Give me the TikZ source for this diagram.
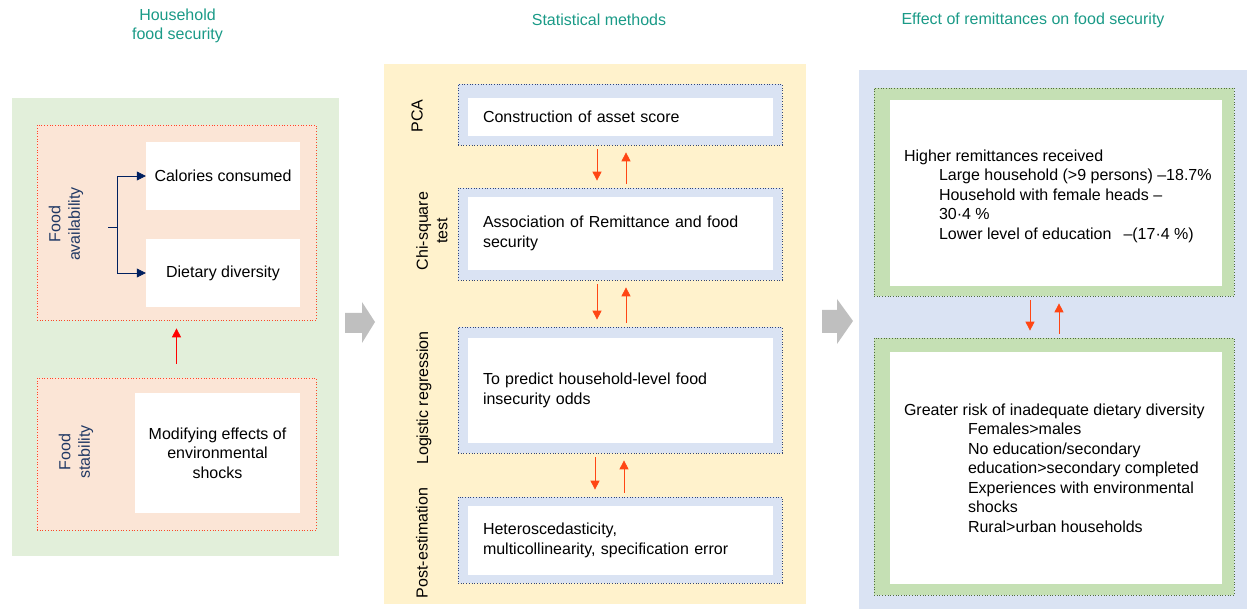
\documentclass[tikz,border=0pt]{standalone}
\usepackage{fontspec}
\setmainfont{Liberation Sans}
\usetikzlibrary{arrows.meta,positioning}
\definecolor{headteal}{RGB}{26,154,135}
\definecolor{greenbg}{RGB}{226,239,218}
\definecolor{peach}{RGB}{251,229,214}
\definecolor{dotred}{RGB}{255,70,40}
\definecolor{yellowbg}{RGB}{255,242,204}
\definecolor{paleblue}{RGB}{218,227,243}
\definecolor{dotblue}{RGB}{50,70,120}
\definecolor{leafgreen}{RGB}{197,224,180}
\definecolor{dotgreen}{RGB}{80,110,60}
\definecolor{flowred}{RGB}{255,70,20}
\definecolor{navy}{RGB}{0,32,96}
\definecolor{labelblue}{RGB}{32,56,100}
\definecolor{blockgray}{RGB}{191,191,191}
\tikzset{
  heading/.style={text=headteal, align=center},
  zone/.style={inner sep=0pt, minimum width=#1},
  frame/.style={draw=#1, dotted, line width=0.7pt, inner sep=0pt},
  card/.style={fill=white, inner sep=0pt, align=center},
  methodcard/.style={fill=white, inner xsep=15pt, inner ysep=0pt, text width=275pt, align=left},
  sidelabel/.style={rotate=90, align=center},
  fork/.style={line width=0.6pt, draw=navy},
  forkarrow/.style={fork, -{Triangle[length=9pt,width=9pt]}},
  flow/.style={line width=0.8pt, draw=flowred, -{Triangle[length=9pt,width=9pt]}, shorten <=4pt, shorten >=7pt},
  blockarrow/.style={fill=blockgray}
}
\begin{document}
\begin{tikzpicture}[x=1pt, y=-1pt, font=\fontsize{16}{19.5}\selectfont]
    \useasboundingbox (0,0) rectangle (1247,609);
    \node[heading] (titleleft) at (177.5,26) {Household\\food security};
    \node[heading] (titlemid) at (599,20) {Statistical methods};
    \node[heading] (titleright) at (1033,20) {Effect of remittances on food security};

    \node[zone=327pt, minimum height=458pt, fill=greenbg] (leftzone) at (175.5,327) {};
    \node[frame=dotred, fill=peach, minimum width=279pt, minimum height=195pt] (availframe) at (176.5,222.5) {};
    \node[card, minimum width=154pt, minimum height=68pt] (calories) at (223,176) {Calories consumed};
    \node[card, minimum width=154pt, minimum height=68pt] (diversity) at (223,273) {Dietary diversity};
    \node[sidelabel, text=labelblue] (availlabel) at (66,224) {Food\\availability};
    \coordinate (branch) at (117,227);
    \draw[fork] (branch) -- ++(-9,0);
    \draw[forkarrow] (branch) |- (calories.west);
    \draw[forkarrow] (branch) |- (diversity.west);
    \node[frame=dotred, fill=peach, minimum width=279pt, minimum height=152pt] (stabframe) at (176.5,454) {};
    \node[card, minimum width=165pt, minimum height=120pt] (shocks) at (217.5,453) {Modifying effects of\\environmental\\shocks};
    \node[sidelabel, text=labelblue] (stablabel) at (76,452) {Food\\stability};
    \draw[line width=0.8pt, red, -{Triangle[length=9pt,width=9pt]}, shorten <=14pt, shorten >=8pt] (stabframe.north) -- (availframe.south);

    \fill[blockarrow] (345,313) -- (362,313) -- (362,302) -- (375,322) -- (362,343) -- (362,333) -- (345,333) -- cycle;

    \node[zone=422pt, minimum height=540pt, fill=yellowbg] (midzone) at (595,334) {};
    \node[frame=dotblue, fill=paleblue, minimum width=324pt, minimum height=61pt] (pcaframe) at (620,114.5) {};
    \node[methodcard, minimum height=38pt] (pca) at (620.5,117) {Construction of asset score};
    \node[sidelabel] (pcalabel) at (417,116) {PCA};
    \node[frame=dotblue, fill=paleblue, minimum width=324pt, minimum height=92pt] (chiframe) at (620,234) {};
    \node[methodcard, minimum height=73pt] (chi) at (620.5,233.5) {Association of Remittance and food\\security};
    \node[sidelabel] (chilabel) at (432,231) {Chi-square\\test};
    \node[frame=dotblue, fill=paleblue, minimum width=324pt, minimum height=126pt] (logframe) at (620,390) {};
    \node[methodcard, minimum height=105pt] (logit) at (620.5,390.5) {To predict household-level food\\insecurity odds};
    \node[sidelabel] (loglabel) at (424,398) {Logistic regression};
    \node[frame=dotblue, fill=paleblue, minimum width=324pt, minimum height=86pt] (postframe) at (620,540) {};
    \node[methodcard, minimum height=69pt] (post) at (620.5,540.5) {Heteroscedasticity,\\multicollinearity, specification error};
    \node[sidelabel] (postlabel) at (422,543) {Post-estimation};
    \draw[flow] ([xshift=-23pt]pcaframe.south) -- ([xshift=-23pt]chiframe.north);
    \draw[flow] ([xshift=6pt]chiframe.north) -- ([xshift=6pt]pcaframe.south);
    \draw[flow] ([xshift=-23pt]chiframe.south) -- ([xshift=-23pt]logframe.north);
    \draw[flow] ([xshift=6pt]logframe.north) -- ([xshift=6pt]chiframe.south);
    \draw[flow] ([xshift=-25pt]logframe.south) -- ([xshift=-25pt]postframe.north);
    \draw[flow] ([xshift=4pt]postframe.north) -- ([xshift=4pt]logframe.south);

    \fill[blockarrow] (822,310) -- (837,310) -- (837,299) -- (853,321) -- (837,344) -- (837,333) -- (822,333) -- cycle;

    \node[zone=388pt, minimum height=539pt, fill=paleblue] (rightzone) at (1053,339.5) {};
    \node[frame=dotgreen, fill=leafgreen, minimum width=360pt, minimum height=208pt] (topframe) at (1054,192) {};
    \node[card, minimum width=332pt, minimum height=186pt] (topcard) at (1056,193) {};
    \node[align=left, inner sep=0pt, right=14pt of topcard.west, anchor=west, yshift=-3pt] (topnote) {Higher remittances received\\
      \hspace*{35pt}Large household (>9 persons) –18.7\%\\
      \hspace*{35pt}Household with female heads –\\
      \hspace*{35pt}30·4 \%\\
      \hspace*{35pt}Lower level of education\hspace{12pt}–(17·4 \%)};
    \node[frame=dotgreen, fill=leafgreen, minimum width=360pt, minimum height=257pt] (lowframe) at (1054,466.5) {};
    \node[card, minimum width=332pt, minimum height=232pt] (lowcard) at (1056,468) {};
    \node[align=left, inner sep=0pt, right=14pt of lowcard.west, anchor=west] (lownote) {Greater risk of inadequate dietary diversity\\
      \hspace*{64pt}Females>males\\
      \hspace*{64pt}No education/secondary\\
      \hspace*{64pt}education>secondary completed\\
      \hspace*{64pt}Experiences with environmental\\
      \hspace*{64pt}shocks\\
      \hspace*{64pt}Rural>urban households};
    \draw[flow] ([xshift=-24pt]topframe.south) -- ([xshift=-24pt]lowframe.north);
    \draw[flow] ([xshift=5pt]lowframe.north) -- ([xshift=5pt]topframe.south);
\end{tikzpicture}
\end{document}
